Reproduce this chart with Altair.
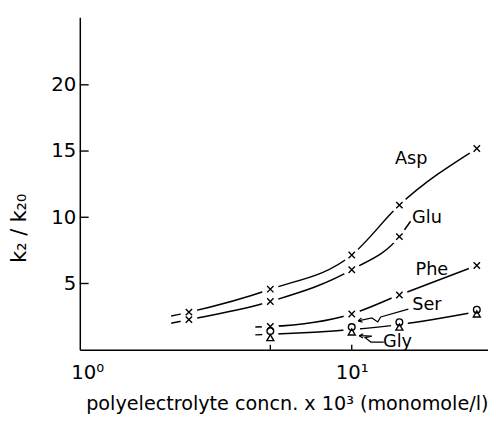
import altair as alt
import pandas as pd

# ---- data ----
conc = [2.5, 5, 10, 15, 29]
asp = [2.84, 4.57, 7.15, 10.92, 15.19]
glu_conc = [2.5, 5, 10, 15]
glu = [2.27, 3.64, 6.04, 8.54]
conc4 = [5, 10, 15, 29]
phe = [1.75, 2.70, 4.13, 6.36]
ser = [1.41, 1.71, 2.08, 3.02]
gly = [0.91, 1.34, 1.71, 2.70]

# drawn curve ends beyond the first/last markers (short stubs)
asp_stub = (2.15, 2.55)
glu_stub_start = (2.15, 2.0)
glu_stub_end = (16.5, 9.7)
phe_stub = (4.4, 1.72)
sg_stub = (4.4, 1.12)

# curve labels (data units)
label_names = ["Asp", "Glu", "Phe", "Ser", "Gly"]
label_x = [16.6, 18.97, 19.78, 18.97, 14.76]
label_y = [14.36, 9.97, 6.0, 3.4, 0.54]

# zig-zag pointer arrows for Ser and Gly (data units)
ser_arrow_x = [16.19, 12.80, 12.48, 11.87, 10.56]
ser_arrow_y = [3.07, 2.47, 2.10, 2.40, 2.18]
gly_arrow_x = [13.13, 11.77, 11.20, 11.87, 10.65]
gly_arrow_y = [0.58, 0.58, 0.91, 1.02, 1.06]
head_angle = [348, 2]

x_ticks = [5, 10]
y_ticks = [5, 10, 15, 20]

FONT = "DejaVu Sans"

# ---- tables ----
def curve_df(pts):
    return pd.DataFrame([{"i": i, "x": x, "y": y} for i, (x, y) in enumerate(pts)])

sg_mid = [(a + b) / 2 for a, b in zip(ser, gly)]
curve_tables = [
    curve_df([asp_stub] + list(zip(conc, asp))),
    curve_df([glu_stub_start] + list(zip(glu_conc, glu)) + [glu_stub_end]),
    curve_df([phe_stub] + list(zip(conc4, phe))),
    curve_df([sg_stub] + list(zip(conc4, sg_mid))),
]

mrows = []
for x, y in zip(conc, asp):
    mrows.append({"x": x, "y": y, "kind": "x"})
for x, y in zip(glu_conc, glu):
    mrows.append({"x": x, "y": y, "kind": "x"})
for x, y in zip(conc4, phe):
    mrows.append({"x": x, "y": y, "kind": "x"})
for x, y in zip(conc4, ser):
    mrows.append({"x": x, "y": y, "kind": "o"})
for x, y in zip(conc4, gly):
    mrows.append({"x": x, "y": y, "kind": "t"})
marks_df = pd.DataFrame(mrows)

labels_df = pd.DataFrame({"name": label_names, "x": label_x, "y": label_y})

ser_arrow_df = pd.DataFrame({"i": range(len(ser_arrow_x)), "x": ser_arrow_x, "y": ser_arrow_y})
gly_arrow_df = pd.DataFrame({"i": range(len(gly_arrow_x)), "x": gly_arrow_x, "y": gly_arrow_y})
heads_df = pd.DataFrame({"x": [ser_arrow_x[-1], gly_arrow_x[-1]],
                         "y": [ser_arrow_y[-1], gly_arrow_y[-1]],
                         "ang": head_angle})

# ---- scales / axes ----
xs = alt.Scale(type="log", domain=[0.9875, 31.9], nice=False)
ys = alt.Scale(domain=[0, 25.1], nice=False, zero=False)

xaxis = alt.Axis(
    values=[1, 10],
    labelExpr="datum.value < 5 ? '10⁰' : '10¹'",
    ticks=False, grid=False,
    labelPadding=13, labelFont=FONT, labelFontSize=20, labelColor="black",
    labelOffset={"condition": {"test": "datum.value < 5", "value": 6}, "value": 0},
    domainColor="black", domainWidth=1.5,
    title="polyelectrolyte concn. x 10³ (monomole/l)",
    titleFont=FONT, titleFontSize=19.5, titleFontWeight="normal", titleColor="black",
    titleX=6, titleY=61, titleAnchor="start", titleAlign="left",
    titleBaseline="alphabetic",
)
yaxis = alt.Axis(
    values=y_ticks, ticks=False, grid=False,
    labelPadding=4, labelFont=FONT, labelFontSize=20, labelColor="black",
    domainColor="black", domainWidth=1.5,
    title="k₂ / k₂₀",
    titleFont=FONT, titleFontSize=21, titleFontWeight="normal", titleColor="black",
    titleX=-55, titleY=214, titleAngle=270, titleAlign="center",
    titleBaseline="alphabetic",
)

def X(f="x"):
    return alt.X(f"{f}:Q", scale=xs, axis=xaxis)

def Y(f="y"):
    return alt.Y(f"{f}:Q", scale=ys, axis=yaxis)

XPATH = "M-1,-1L1,1M-1,1L1,-1"
HEAD = "M0,0L2,-1.1M0,0L2,1.1"

line_layers = [
    alt.Chart(df).mark_line(
        color="black", strokeWidth=1.5, interpolate="monotone"
    ).encode(x=X(), y=Y(), order="i:Q")
    for df in curve_tables
]

halos = alt.Chart(marks_df).mark_circle(
    color="white", opacity=1, size=300
).encode(x=X(), y=Y())

markers = alt.Chart(marks_df).mark_point(
    filled=False, color="black", strokeWidth=1.4, opacity=1
).encode(
    x=X(), y=Y(),
    shape=alt.Shape("kind:N", scale=alt.Scale(domain=["x", "o", "t"],
                                              range=[XPATH, "circle", "triangle-up"]),
                    legend=None),
    size=alt.Size("kind:N", scale=alt.Scale(domain=["x", "o", "t"], range=[42, 50, 45]),
                  legend=None),
)

xt = alt.Chart(pd.DataFrame({"v": x_ticks})).mark_rule(
    color="black", strokeWidth=1.4
).encode(x=X("v"), y=alt.value(338), y2=alt.value(333))

yt = alt.Chart(pd.DataFrame({"v": y_ticks})).mark_rule(
    color="black", strokeWidth=1.4
).encode(y=Y("v"), x=alt.value(0), x2=alt.value(9))

texts = alt.Chart(labels_df).mark_text(
    font=FONT, fontSize=18, color="black", align="center", baseline="middle"
).encode(x=X(), y=Y(), text="name:N")

arrow_layers = [
    alt.Chart(df).mark_line(color="black", strokeWidth=1.2).encode(x=X(), y=Y(), order="i:Q")
    for df in (ser_arrow_df, gly_arrow_df)
]

heads = alt.Chart(heads_df).mark_point(
    shape=HEAD, filled=False, color="black", strokeWidth=1.2, size=16, opacity=1
).encode(x=X(), y=Y(), angle=alt.Angle("ang:Q", scale=None))

chart = alt.layer(*line_layers, halos, markers, xt, yt, texts, *arrow_layers, heads).properties(
    width=415, height=338,
    autosize=alt.AutoSizeParams(type="none"),
    padding={"left": 73, "top": 6, "right": 0, "bottom": 66},
    background="white",
).configure_view(stroke=None)

chart.save("out.html", embed_options={"renderer": "svg", "actions": False})
